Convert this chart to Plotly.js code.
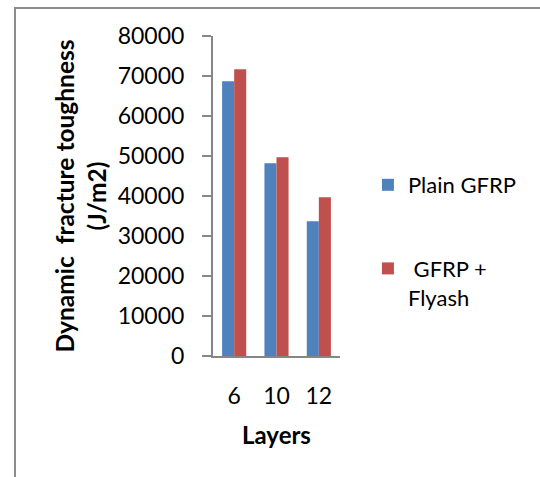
<!DOCTYPE html>
<html>
<head>
<meta charset="utf-8">
<script src="https://cdn.plot.ly/plotly-3.0.1.min.js"></script>
<style>
  html, body { margin: 0; padding: 0; background: #fff; }
  #wrap { position: relative; width: 540px; height: 477px; overflow: hidden; }
  #frame { position: absolute; left: 14px; top: 7px; width: 600px; height: 600px;
           border-left: 2px solid #8c8c8c; border-top: 2px solid #8c8c8c; pointer-events: none; }
  #chart { position: absolute; left: 0; top: 0; width: 540px; height: 477px; }
</style>
</head>
<body>
<div id="wrap">
  <div id="chart"></div>
  <div id="frame"></div>
</div>
<script>
const categories = ['6', '10', '12'];
const plainGFRP = [68700, 48200, 33700];
const gfrpFlyash = [71700, 49700, 39700];
const seriesNames = ['Plain GFRP', '\u00a0GFRP +<br>Flyash'];
const yTicks = [0, 10000, 20000, 30000, 40000, 50000, 60000, 70000, 80000];

const FONT = 'Lato, "Open Sans", sans-serif';
const AXIS = '#868686';

const traces = [
  { type: 'bar', x: categories, y: plainGFRP, name: seriesNames[0],
    marker: { color: '#4F81BD' }, legendgroup: 'a' },
  { type: 'bar', x: categories, y: gfrpFlyash, name: seriesNames[1],
    marker: { color: '#C0504D' }, legendgroup: 'b' }
];

const layout = {
  width: 540, height: 477,
  margin: { l: 213, r: 200, t: 36, b: 121, pad: 0 },
  paper_bgcolor: '#fff', plot_bgcolor: '#fff',
  font: { family: FONT, size: 22, color: '#000' },
  barmode: 'group', bargap: 0.43, bargroupgap: 0,
  showlegend: true,
  legend: { x: 1.22, xanchor: 'left', y: 0.60, yanchor: 'top',
            valign: 'top', tracegroupgap: 52, traceorder: 'grouped',
            font: { family: FONT, size: 22, color: '#000' } },
  xaxis: {
    type: 'category', showgrid: false, zeroline: false,
    showline: true, linecolor: AXIS, linewidth: 2,
    ticks: '', ticklabelstandoff: 18,
    tickfont: { family: FONT, size: 23 },
    title: { text: 'Layers', standoff: 20, font: { family: FONT, size: 24, weight: 'bold' } }
  },
  yaxis: {
    range: [0, 80000], tickvals: yTicks, ticktext: yTicks.map(String),
    showgrid: false, zeroline: false,
    showline: true, linecolor: AXIS, linewidth: 2,
    ticks: 'outside', ticklen: 9, tickwidth: 1.5, tickcolor: AXIS,
    ticklabelstandoff: 13,
    tickfont: { family: FONT, size: 23 },
    title: { text: 'Dynamic  fracture toughness<br>(J/m2)', standoff: 4,
             font: { family: FONT, size: 24.5, weight: 'bold' } }
  }
};

Plotly.newPlot('chart', traces, layout, { displayModeBar: false, staticPlot: true });
</script>
</body>
</html>
